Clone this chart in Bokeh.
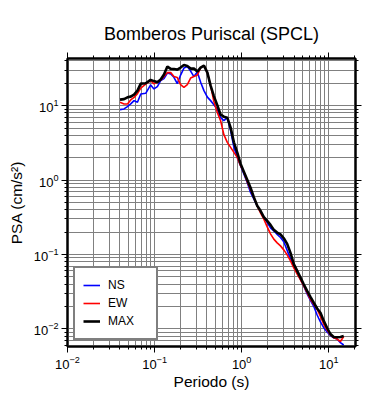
from bokeh.plotting import figure
from bokeh.models import LogAxis, FixedTicker, Legend, LegendItem, CustomJSTickFormatter
from bokeh.embed import file_html
from bokeh.resources import INLINE

# Period (s)
period = [0.0401, 0.0446, 0.0488, 0.0532, 0.0581, 0.0636, 0.0694, 0.0791, 0.0901, 0.0984,
          0.1076, 0.1175, 0.1283, 0.1403, 0.1532, 0.1668, 0.1824, 0.1990, 0.2173, 0.2377,
          0.2594, 0.2831, 0.3097, 0.338, 0.369, 0.404, 0.440, 0.480, 0.525, 0.573,
          0.625, 0.684, 0.747, 0.815, 0.891, 0.971, 1.060, 1.159, 1.265, 1.380,
          1.509, 1.647, 1.798, 1.966, 2.145, 2.341, 2.559, 2.793, 3.048, 3.333,
          3.638, 3.972, 4.345, 4.742, 5.165, 5.649, 6.166, 6.730, 7.362, 8.035,
          8.770, 9.59, 10.45, 11.41, 12.48, 13.62, 14.86]

# PSA (cm/s^2)
psa_ns = [8.835, 9.03, 9.69, 10.54, 11.68, 11.08, 14.37, 14.64, 18.99, 16.78,
          18.02, 21.70, 23.09, 27.38, 26.71, 24.04, 19.78, 25.74, 31.97, 33.48,
          29.13, 24.57, 28.24, 20.59, 15.92, 13.01, 11.68, 10.31, 8.97, 6.90,
          6.28, 6.90, 4.61, 2.75, 2.015, 1.557, 1.204, 0.928, 0.681, 0.560,
          0.451, 0.380, 0.316, 0.269, 0.228, 0.208, 0.186, 0.169, 0.148, 0.1136,
          0.0864, 0.0702, 0.0571, 0.0462, 0.0378, 0.0295, 0.0241, 0.0201, 0.01538, 0.01239,
          0.01038, 0.00909, 0.00815, 0.00761, 0.00731, 0.00652, 0.00607]

psa_ew = [11.08, 10.54, 10.54, 11.93, 12.93, 14.51, 17.20, 19.48, 21.70, 19.60,
          20.72, 22.04, 24.57, 27.81, 27.81, 24.57, 23.82, 19.17, 17.63, 19.17,
          23.45, 24.57, 25.74, 32.46, 34.55, 27.81, 18.59, 11.32, 8.12, 6.28,
          4.07, 3.21, 2.75, 2.352, 2.015, 1.557, 1.274, 0.949, 0.740, 0.583,
          0.451, 0.363, 0.2987, 0.2352, 0.1894, 0.1607, 0.1433, 0.1305, 0.1153, 0.0988,
          0.0820, 0.0660, 0.0543, 0.0455, 0.0378, 0.0307, 0.0250, 0.0214, 0.01836, 0.01468,
          0.01153, 0.00967, 0.00828, 0.00761, 0.00731, 0.00677, 0.0079]

psa_max = [12.04, 12.23, 12.93, 13.22, 14.06, 15.92, 19.78, 19.96, 22.18, 21.37,
           20.59, 22.39, 26.14, 33.48, 31.18, 30.99, 30.51, 32.46, 35.09, 34.02,
           31.47, 31.47, 28.68, 32.46, 34.55, 27.81, 18.59, 13.43, 10.16, 7.56,
           7.11, 6.90, 5.06, 3.21, 2.33, 1.657, 1.293, 1.009, 0.788, 0.59,
           0.451, 0.386, 0.318, 0.283, 0.250, 0.214, 0.197, 0.186, 0.165, 0.139,
           0.105, 0.0740, 0.0601, 0.0489, 0.0398, 0.0324, 0.0269, 0.0225, 0.0188, 0.0165,
           0.0128, 0.01028, 0.00854, 0.00778, 0.00774, 0.00778, 0.0080]

x_decades = [0.01, 0.1, 1, 10]
y_decades = [0.001, 0.01, 0.1, 1, 10]
series_labels = ["NS", "EW", "MAX"]

FONT = "Liberation Sans"

x_minor = [m * d for d in x_decades for m in range(2, 10)]
y_minor = [m * d for d in y_decades for m in range(2, 10)]
xt = FixedTicker(ticks=x_decades, minor_ticks=x_minor)
yt = FixedTicker(ticks=y_decades[1:], minor_ticks=y_minor)

p = figure(width=382, height=392,
           x_axis_type="log", y_axis_type="log",
           x_range=(0.01, 20.3), y_range=(0.0058, 43),
           output_backend="svg", toolbar_location=None,
           min_border_left=67, min_border_top=58, min_border_right=27, min_border_bottom=46)

p.title.text = "Bomberos Puriscal (SPCL)"
p.title.align = "center"
p.title.text_font = FONT
p.title.text_font_size = "18px"
p.title.text_font_style = "normal"
p.title.text_color = "black"
p.title.standoff = 18

def style_axis(ax, labels=True):
    ax.axis_line_color = "black"
    ax.axis_line_width = 2
    ax.major_tick_in = 0
    ax.major_tick_out = 6
    ax.minor_tick_in = 0
    ax.minor_tick_out = 3
    ax.major_tick_line_color = "black"
    ax.minor_tick_line_color = "black"
    ax.major_label_text_font = FONT
    ax.major_label_text_font_size = "13px"
    ax.major_label_text_color = "black"
    ax.axis_label_text_font = FONT
    ax.axis_label_text_font_size = "15.5px"
    ax.axis_label_text_font_style = "normal"
    ax.axis_label_text_color = "black"
    ax.major_label_standoff = 3
    if not labels:
        ax.formatter = CustomJSTickFormatter(code="return ''")
        ax.major_label_standoff = 0

p.xaxis.ticker = xt
p.yaxis.ticker = yt
p.xaxis.axis_label = "Periodo (s)"
p.yaxis.axis_label = "PSA (cm/s²)"
style_axis(p.xaxis[0])
style_axis(p.yaxis[0])
p.xaxis.axis_label_standoff = 1
p.yaxis.axis_label_standoff = 6

top_ax = LogAxis(ticker=FixedTicker(ticks=x_decades, minor_ticks=x_minor))
right_ax = LogAxis(ticker=FixedTicker(ticks=y_decades[1:], minor_ticks=y_minor))
style_axis(top_ax, labels=False)
style_axis(right_ax, labels=False)
p.add_layout(top_ax, "above")
p.add_layout(right_ax, "right")

for g, t in ((p.xgrid, xt), (p.ygrid, yt)):
    g.ticker = t
    g.grid_line_color = "#808080"
    g.grid_line_alpha = 1
    g.grid_line_width = 1
    g.minor_grid_line_color = "#808080"
    g.minor_grid_line_width = 1

p.outline_line_color = "black"
p.outline_line_width = 2
p.background_fill_color = "white"
p.border_fill_color = "white"

r_ns = p.line(period, psa_ns, line_color="#0000ff", line_width=1.6)
r_ew = p.line(period, psa_ew, line_color="#ff0000", line_width=1.6)
r_max = p.line(period, psa_max, line_color="black", line_width=2.6)

legend = Legend(items=[LegendItem(label=series_labels[0], renderers=[r_ns]),
                       LegendItem(label=series_labels[1], renderers=[r_ew]),
                       LegendItem(label=series_labels[2], renderers=[r_max])],
                location=(6, 6))
legend.label_text_font = FONT
legend.label_text_font_size = "12px"
legend.label_text_color = "black"
legend.label_height = 18
legend.glyph_height = 18
legend.glyph_width = 17
legend.label_width = 40
legend.label_standoff = 8
legend.spacing = 0
legend.padding = 8
legend.margin = 0
legend.border_line_color = "black"
legend.border_line_width = 2
legend.background_fill_color = "white"
legend.background_fill_alpha = 1
p.add_layout(legend)

open("out.html", "w").write(file_html(p, INLINE))
